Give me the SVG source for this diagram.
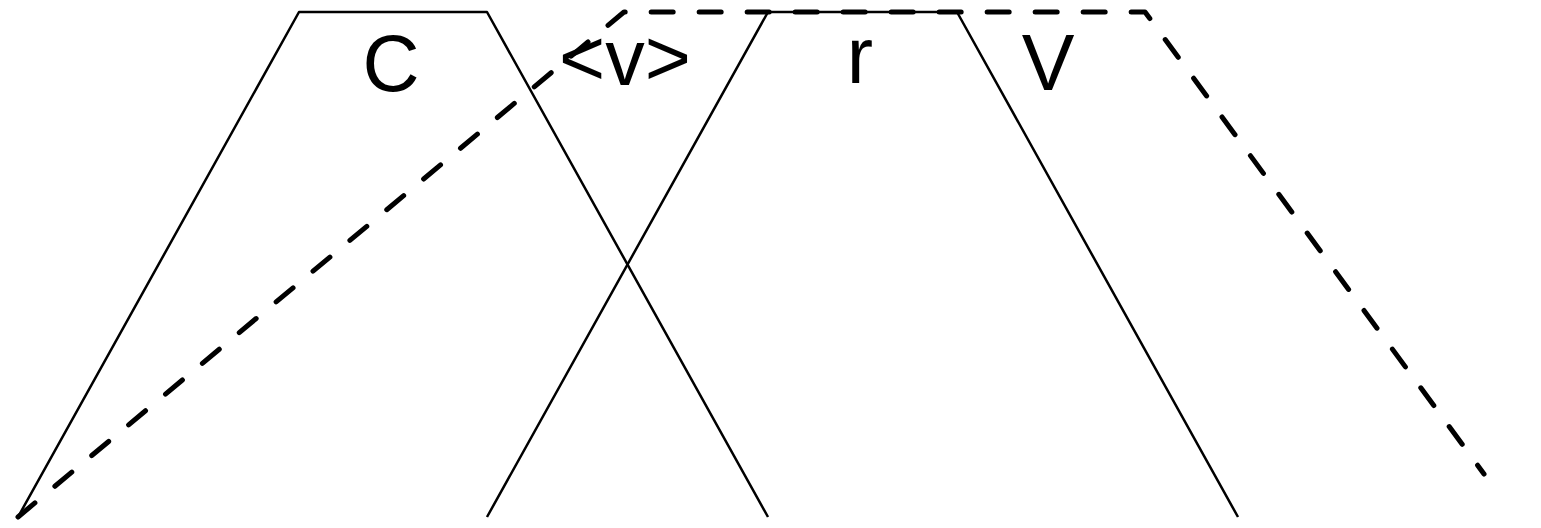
<svg xmlns="http://www.w3.org/2000/svg" width="1541" height="528" viewBox="0 0 1541 528">
<style>
.solid{fill:none;stroke:#000;stroke-width:2.5;stroke-linejoin:round}
.dash{fill:none;stroke:#000;stroke-width:5;stroke-dasharray:22 26;stroke-linecap:round;stroke-linejoin:round}
.lbl{font-family:"Liberation Sans",Arial,sans-serif;font-size:79px;fill:#000;text-anchor:middle}
</style>
<rect width="1541" height="528" fill="#fff"/>
<g id="connectors">
<polyline id="trap1" class="solid" points="18,517 299,12 487,12 768,517"/>
<polyline id="trap2" class="solid" points="487,517 768,12 957,12 1238,517"/>
<polyline id="trap3" class="dash" points="18,517 624,12 1145,12 1484,474"/>
</g>
<g id="label-C"><text class="lbl" x="391" y="91">C</text></g>
<g id="label-v"><text class="lbl" x="625" y="85">&lt;v&gt;</text></g>
<g id="label-r"><text class="lbl" x="860" y="83">r</text></g>
<g id="label-V"><text class="lbl" x="1048" y="90">V</text></g>
</svg>
